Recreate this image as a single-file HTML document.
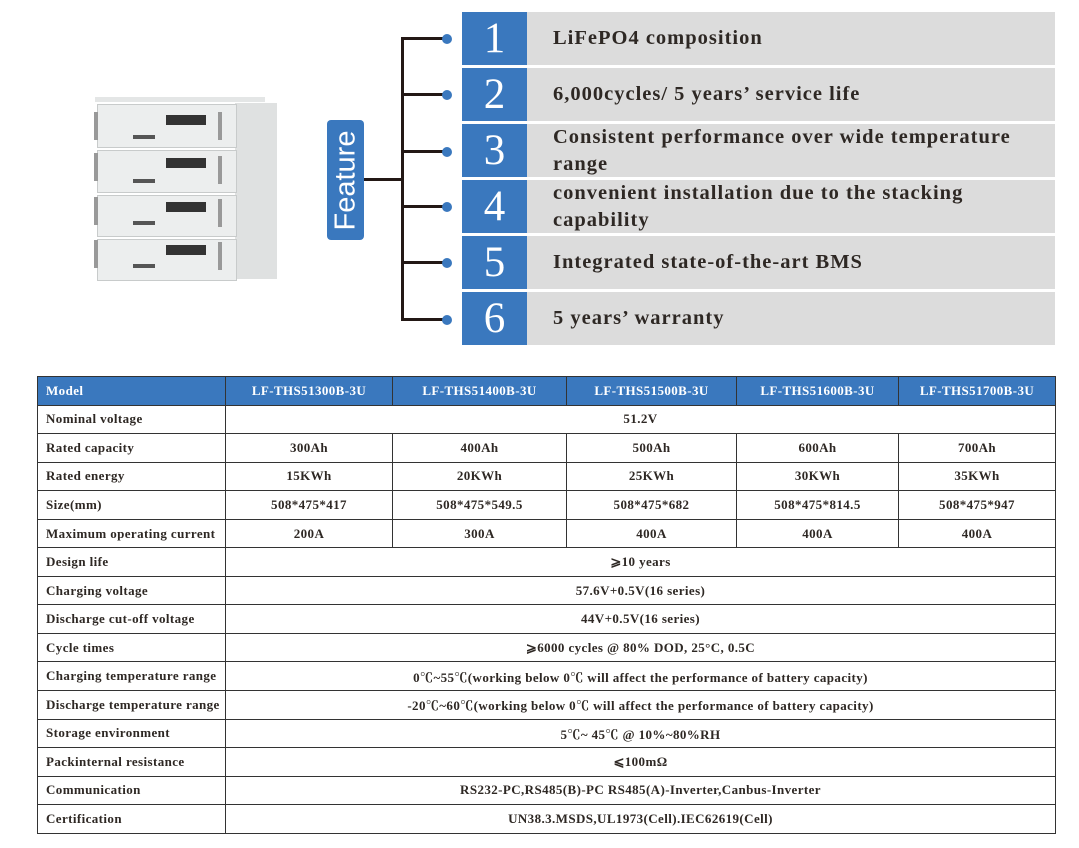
<!DOCTYPE html>
<html><head><meta charset="utf-8"><style>
*{margin:0;padding:0;box-sizing:border-box}
body{width:1079px;height:848px;background:#fff;position:relative;overflow:hidden;font-family:"Liberation Serif","Noto Serif CJK SC",serif;color:#2a2420}
.a{position:absolute}
.num{position:absolute;left:462px;width:65px;height:53px;background:#3a78be;color:#fff;font-size:43px;text-align:center;line-height:53px}
.txt{position:absolute;left:527px;width:528px;height:53px;background:#dcdcdc;font-size:20.5px;letter-spacing:1px;padding-left:26px;display:flex;align-items:center;line-height:27px;font-weight:bold;color:#2e2824}
.br{position:absolute;left:402px;width:44px;height:3px;background:#231815}
.dot{position:absolute;left:442px;width:10px;height:10px;border-radius:50%;background:#3a78be}
table{position:absolute;left:37px;top:376px;width:1018px;height:457px;border-collapse:collapse;table-layout:fixed;font-size:13px;font-weight:bold;letter-spacing:0.4px}
td{border:1px solid #333;text-align:center;height:28.56px;padding:0;color:#2e2824;white-space:nowrap}
td:first-child{text-align:left;padding-left:8px}
tr.h td{background:#3a78be;color:#fff;border-color:#333}
.bat{position:absolute;background:#eceeee;border:1px solid #c8cbcb}
</style></head><body>
<div class="a" style="left:235px;top:103px;width:42px;height:176px;background:#dfe1e1"></div>
<div class="a" style="left:95px;top:97px;width:170px;height:5px;background:#e4e6e6"></div>
<div class="bat" style="left:97px;top:104px;width:140px;height:44px"></div>
<div class="bat" style="left:97px;top:150px;width:140px;height:43px"></div>
<div class="bat" style="left:97px;top:195px;width:140px;height:42px"></div>
<div class="bat" style="left:97px;top:239px;width:140px;height:42px"></div>
<div class="a" style="left:166px;top:115px;width:40px;height:10px;background:#333"></div>
<div class="a" style="left:166px;top:158px;width:40px;height:10px;background:#333"></div>
<div class="a" style="left:166px;top:202px;width:40px;height:10px;background:#333"></div>
<div class="a" style="left:166px;top:245px;width:40px;height:10px;background:#333"></div>
<div class="a" style="left:133px;top:135px;width:22px;height:4px;background:#555"></div>
<div class="a" style="left:133px;top:179px;width:22px;height:4px;background:#555"></div>
<div class="a" style="left:133px;top:221px;width:22px;height:4px;background:#555"></div>
<div class="a" style="left:133px;top:264px;width:22px;height:4px;background:#555"></div>
<div class="a" style="left:94px;top:112px;width:4px;height:28px;background:#999"></div>
<div class="a" style="left:94px;top:153px;width:4px;height:28px;background:#999"></div>
<div class="a" style="left:94px;top:197px;width:4px;height:28px;background:#999"></div>
<div class="a" style="left:94px;top:240px;width:4px;height:28px;background:#999"></div>
<div class="a" style="left:218px;top:112px;width:4px;height:28px;background:#999"></div>
<div class="a" style="left:218px;top:156px;width:4px;height:28px;background:#999"></div>
<div class="a" style="left:218px;top:199px;width:4px;height:28px;background:#999"></div>
<div class="a" style="left:218px;top:242px;width:4px;height:28px;background:#999"></div>

<div class="a" style="left:327px;top:120px;width:37px;height:120px;background:#3a78be;border-radius:4px"></div>
<div class="a" style="left:327px;top:120px;width:37px;height:120px;display:flex;align-items:center;justify-content:center">
<div style="transform:rotate(-90deg);color:#fff;font-family:'Liberation Sans',sans-serif;font-size:29px;white-space:nowrap">Feature</div></div>
<div class="a" style="left:364px;top:178px;width:39px;height:3px;background:#231815"></div>
<div class="a" style="left:401px;top:37px;width:3px;height:284px;background:#231815"></div>
<div class="br" style="top:37px"></div><div class="dot" style="top:34px"></div>
<div class="br" style="top:93px"></div><div class="dot" style="top:90px"></div>
<div class="br" style="top:150px"></div><div class="dot" style="top:147px"></div>
<div class="br" style="top:205px"></div><div class="dot" style="top:202px"></div>
<div class="br" style="top:261px"></div><div class="dot" style="top:258px"></div>
<div class="br" style="top:318px"></div><div class="dot" style="top:315px"></div>

<div class="num" style="top:12px">1</div><div class="txt" style="top:12px">LiFePO4 composition</div>
<div class="num" style="top:68px">2</div><div class="txt" style="top:68px">6,000cycles/ 5 years’ service life</div>
<div class="num" style="top:124px">3</div><div class="txt" style="top:124px">Consistent performance over wide temperature<br>range</div>
<div class="num" style="top:180px">4</div><div class="txt" style="top:180px">convenient installation due to the stacking<br>capability</div>
<div class="num" style="top:236px">5</div><div class="txt" style="top:236px">Integrated state-of-the-art BMS</div>
<div class="num" style="top:292px">6</div><div class="txt" style="top:292px">5 years’ warranty</div>

<table>
<colgroup><col style="width:188px"><col style="width:167px"><col style="width:174px"><col style="width:170px"><col style="width:162px"><col style="width:157px"></colgroup>
<tr class="h"><td>Model</td><td>LF-THS51300B-3U</td><td>LF-THS51400B-3U</td><td>LF-THS51500B-3U</td><td>LF-THS51600B-3U</td><td>LF-THS51700B-3U</td></tr>
<tr><td>Nominal voltage</td><td colspan="5">51.2V</td></tr>
<tr><td>Rated capacity</td><td>300Ah</td><td>400Ah</td><td>500Ah</td><td>600Ah</td><td>700Ah</td></tr>
<tr><td>Rated energy</td><td>15KWh</td><td>20KWh</td><td>25KWh</td><td>30KWh</td><td>35KWh</td></tr>
<tr><td>Size(mm)</td><td>508*475*417</td><td>508*475*549.5</td><td>508*475*682</td><td>508*475*814.5</td><td>508*475*947</td></tr>
<tr><td>Maximum operating current</td><td>200A</td><td>300A</td><td>400A</td><td>400A</td><td>400A</td></tr>
<tr><td>Design life</td><td colspan="5">⩾10 years</td></tr>
<tr><td>Charging voltage</td><td colspan="5">57.6V+0.5V(16 series)</td></tr>
<tr><td>Discharge cut-off voltage</td><td colspan="5">44V+0.5V(16 series)</td></tr>
<tr><td>Cycle times</td><td colspan="5">⩾6000 cycles @ 80% DOD, 25°C, 0.5C</td></tr>
<tr><td>Charging temperature range</td><td colspan="5">0℃~55℃(working below 0℃ will affect the performance of battery capacity)</td></tr>
<tr><td>Discharge temperature range</td><td colspan="5">-20℃~60℃(working below 0℃ will affect the performance of battery capacity)</td></tr>
<tr><td>Storage environment</td><td colspan="5">5℃~ 45℃ @ 10%~80%RH</td></tr>
<tr><td>Packinternal resistance</td><td colspan="5">⩽100mΩ</td></tr>
<tr><td>Communication</td><td colspan="5">RS232-PC,RS485(B)-PC RS485(A)-Inverter,Canbus-Inverter</td></tr>
<tr><td>Certification</td><td colspan="5">UN38.3.MSDS,UL1973(Cell).IEC62619(Cell)</td></tr>
</table>
</body></html>
